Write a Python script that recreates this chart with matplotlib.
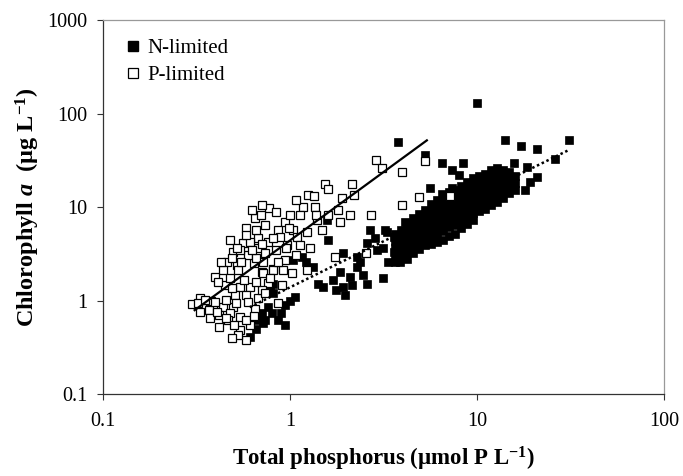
import matplotlib
matplotlib.use("Agg")
import matplotlib.pyplot as plt
from matplotlib.ticker import FixedLocator, FixedFormatter, NullLocator
from matplotlib.lines import Line2D

# N-limited lakes (filled squares)
n_tp = [0.61, 0.68, 0.74, 0.80, 0.86, 0.71, 0.94, 0.76, 0.81, 0.785, 0.81, 0.94, 1.07, 0.72, 0.66, 0.90, 1.0,
        1.04, 1.16, 1.33, 1.22, 1.58, 1.6, 1.93, 1.5, 1.7, 1.86, 2.1, 1.98, 1.93, 2.3, 2.6, 2.3, 1.42, 1.77, 2.15, 2.38, 2.45,
        2.69, 2.6, 2.86, 3.23, 3.6, 3.6, 3.75, 2.93, 3.15, 3.35, 3.89, 3.16, 4.14, 3.8, 3.3,
        3.66, 3.66, 3.66, 3.66, 3.66,
        3.94, 3.94, 3.94, 3.94, 3.94,
        4.24, 4.24, 4.24, 4.24, 4.24, 4.24,
        4.56, 4.56, 4.56, 4.56, 4.56, 4.56,
        4.91, 4.91, 4.91, 4.91, 4.91, 4.91,
        5.29, 5.29, 5.29, 5.29, 5.29, 5.29,
        5.7, 5.7, 5.7, 5.7, 5.7, 5.7, 5.7,
        6.14, 6.14, 6.14, 6.14, 6.14, 6.14, 6.14,
        6.61, 6.61, 6.61, 6.61, 6.61, 6.61, 6.61,
        7.11, 7.11, 7.11, 7.11, 7.11, 7.11, 7.11,
        7.66, 7.66, 7.66, 7.66, 7.66, 7.66, 7.66,
        8.24, 8.24, 8.24, 8.24, 8.24, 8.24, 8.24,
        8.87, 8.87, 8.87, 8.87, 8.87, 8.87, 8.87,
        9.55, 9.55, 9.55, 9.55, 9.55, 9.55, 9.55,
        10.3, 10.3, 10.3, 10.3, 10.3, 10.3,
        11.1, 11.1, 11.1, 11.1, 11.1, 11.1,
        11.9, 11.9, 11.9, 11.9, 11.9, 11.9,
        12.8, 12.8, 12.8, 12.8, 12.8, 12.8,
        13.8, 13.8, 13.8, 13.8, 13.8,
        14.9, 14.9, 14.9, 14.9,
        16.0, 16.0, 16.0,
        10.0, 14.2, 17.3, 21.0, 31.0, 26.0, 21.0, 18.6, 15.8, 6.5, 8.4, 7.4, 8.0, 5.6, 6.5, 7.4, 5.3, 19.3, 18.0]
n_chl = [0.41, 0.62, 0.62, 0.74, 0.62, 0.74, 0.55, 0.85, 1.2, 1.4, 1.5, 0.9, 1.1, 0.58, 0.5, 0.74, 1.0,
         2.72, 2.9, 2.3, 2.6, 7.3, 4.46, 3.2, 1.4, 1.66, 2.0, 1.8, 1.15, 1.4, 2.3, 1.5, 2.9, 1.5, 1.3, 1.47, 2.6, 1.88,
         5.7, 4.1, 4.7, 5.7, 4.8, 3.3, 2.72, 3.48, 1.75, 2.6, 2.6, 3.7, 6.9, 50.0, 5.4,
         5.2, 4.35, 3.66, 3.08, 2.58,
         5.7, 4.8, 4.05, 3.4, 2.85,
         6.6, 5.55, 4.7, 3.94, 3.3, 2.8,
         7.7, 6.45, 5.4, 4.6, 3.85, 3.2,
         8.5, 7.1, 6.0, 5.04, 4.25, 3.57,
         9.33, 7.9, 6.6, 5.55, 4.7, 3.94,
         10.8, 9.1, 7.7, 6.45, 5.4, 4.6, 4.05,
         11.9, 10.0, 8.5, 7.1, 6.0, 5.04, 4.25,
         13.2, 11.1, 9.33, 7.9, 6.6, 5.55, 4.46,
         14.6, 12.2, 10.3, 8.7, 7.3, 6.15, 4.9,
         15.3, 12.9, 10.8, 9.1, 7.7, 6.45, 5.2,
         16.8, 14.2, 11.9, 10.0, 8.5, 7.1, 6.0,
         18.6, 15.6, 13.2, 11.1, 9.33, 7.9, 6.6,
         20.5, 17.3, 14.6, 12.2, 10.3, 8.7, 7.3,
         21.5, 18.1, 15.3, 12.9, 10.8, 9.1,
         22.6, 19.0, 16.0, 13.5, 11.4, 9.6,
         25.0, 21.0, 17.7, 14.9, 12.6, 10.6,
         26.3, 22.1, 18.6, 15.6, 13.2, 11.4,
         25.0, 21.0, 17.7, 14.9, 12.6,
         23.8, 20.0, 16.8, 14.2,
         21.5, 18.1, 15.3,
         130.0, 53.0, 45.0, 42.0, 53.0, 33.0, 21.0, 27.0, 30.0, 30.0, 30.0, 25.0, 22.0, 16.0, 14.0, 16.0, 36.0, 18.6, 15.3]

# P-limited lakes (open squares)
p_tp = [0.77, 0.65, 0.74, 0.56, 0.68, 0.68, 0.61, 0.76, 0.46, 0.52, 0.44, 0.40, 0.53, 0.64, 0.72, 0.71, 0.81,
        0.54, 0.61, 0.58, 0.76, 0.68, 0.33, 0.30, 0.34, 0.39, 0.44, 0.50, 0.48, 0.42, 0.54, 0.42, 0.54, 0.58, 0.37,
        0.60, 0.50, 0.45, 0.51, 0.65, 0.71, 0.38, 0.47, 0.61, 0.53, 0.58, 0.70,
        1.55, 1.6, 1.25, 1.18, 1.37, 1.9, 2.2, 1.8, 1.13, 0.94, 0.86, 1.04, 1.23, 1.48, 0.89, 1.09, 1.13, 1.28,
        0.94, 0.81, 0.92, 1.03, 1.23, 0.72, 1.75, 2.7, 0.86, 0.74, 0.97, 1.39, 2.55,
        2.9, 3.1, 2.15, 4.0, 5.3, 4.9, 4.0, 7.2,
        0.325, 0.352, 0.40, 0.456, 0.515, 0.60, 0.375, 0.456, 0.585, 0.505, 0.64, 0.41, 0.33, 0.49,
        0.415, 0.48, 0.57, 0.66, 0.49, 0.43, 0.49, 0.55, 0.66, 0.74, 0.84, 0.54, 0.63, 0.71, 0.81, 0.95,
        1.08, 0.86, 0.58, 0.66, 0.48, 0.52, 0.785, 0.91,
        0.63, 0.71, 0.84, 1.0, 1.08, 1.35, 0.99, 1.38, 1.6, 1.86, 2.1]
p_chl = [9.8, 7.7, 6.45, 4.1, 4.7, 3.66, 4.25, 4.25, 2.58, 2.41, 2.13, 1.8, 2.13, 2.5, 2.58, 2.0, 2.2,
         1.4, 1.4, 1.15, 1.55, 1.06, 1.06, 0.92, 0.83, 0.85, 0.85, 0.85, 0.74, 0.70, 0.67, 0.52, 0.48, 0.38, 0.79,
         3.08, 3.3, 1.47, 1.15, 0.81, 1.3, 1.0, 0.62, 0.55, 0.43, 6.0, 8.3,
         17.7, 15.7, 13.5, 10.0, 10.0, 12.5, 13.5, 9.3, 8.3, 7.0, 5.7, 5.7, 5.4, 5.7, 4.8, 4.8, 3.94, 3.66,
         2.72, 2.13, 2.13, 1.98, 2.13, 1.98, 2.94, 8.3, 0.94, 1.2, 3.94, 7.3, 3.2,
         32.0, 26.5, 17.7, 24.0, 31.0, 13.0, 10.6, 13.2,
         0.95, 1.01, 0.97, 1.01, 0.95, 0.97, 0.65, 0.65, 0.62, 0.55, 0.68, 0.76, 0.76, 0.40,
         1.57, 1.73, 1.66, 1.57, 1.36, 2.58, 2.85, 2.58, 2.85, 3.2, 3.48, 3.48, 3.48, 4.05, 4.7, 3.66,
         3.08, 2.58, 5.04, 5.7, 4.46, 3.66, 1.73, 1.47,
         9.33, 10.6, 8.9, 8.3, 11.9, 13.2, 6.0, 8.3, 8.3, 6.95, 8.3]

# fitted regression lines (end points)
p_fit_x = [0.31, 5.4]
p_fit_y = [0.79, 52.0]
n_fit_x = [0.61, 31.0]
n_fit_y = [0.85, 41.0]

x_ticks = [0.1, 1, 10, 100]
y_ticks = [0.1, 1, 10, 100, 1000]

plt.rcParams['font.family'] = ['Liberation Serif', 'DejaVu Serif']
plt.rcParams['mathtext.fontset'] = 'custom'
plt.rcParams['mathtext.rm'] = 'Liberation Serif'
plt.rcParams['mathtext.it'] = 'Liberation Serif:italic'
plt.rcParams['mathtext.bf'] = 'Liberation Serif:bold'
plt.rcParams['mathtext.bfit'] = 'Liberation Serif:bold:italic'

fig = plt.figure(figsize=(6.83, 4.76), dpi=100)
ax = fig.add_axes([0.1504, 0.1723, 0.8218, 0.7847])

ax.plot(n_tp, n_chl, 's', ms=5.8, mfc='black', mec='black', mew=0.5, zorder=2)
ax.plot(p_tp, p_chl, 's', ms=5.4, mfc='white', mec='black', mew=0.9, zorder=3)
ax.plot(p_fit_x, p_fit_y, '-', color='black', lw=1.6, zorder=4)
ax.plot(n_fit_x, n_fit_y, color='black', lw=1.8, linestyle=(0, (1, 1.1)), zorder=4)

ax.set_xscale('log')
ax.set_yscale('log')
ax.set_xlim(0.1, 100)
ax.set_ylim(0.1, 1000)

ax.xaxis.set_major_locator(FixedLocator(x_ticks))
ax.xaxis.set_major_formatter(FixedFormatter(['%g' % v for v in x_ticks]))
ax.yaxis.set_major_locator(FixedLocator(y_ticks))
ax.yaxis.set_major_formatter(FixedFormatter(['%g' % v for v in y_ticks]))
ax.xaxis.set_minor_locator(NullLocator())
ax.yaxis.set_minor_locator(NullLocator())
ax.tick_params(axis='both', direction='out', length=4, width=0.8, labelsize=14.5, color='#333333')
ax.tick_params(axis='x', pad=9)
ax.tick_params(axis='y', pad=7)

for side in ['left', 'bottom']:
    ax.spines[side].set_color('#333333')
    ax.spines[side].set_linewidth(0.9)
for side in ['top', 'right']:
    ax.spines[side].set_color('#999999')
    ax.spines[side].set_linewidth(0.9)

ax.set_xlabel('Total phosphorus (µmol P L$^{\\mathbf{-1}}$)',
              fontsize=16.5, fontweight='bold', labelpad=10)
ax.set_ylabel('Chlorophyll $\\mathbfit{a}$  (µg L$^{\\mathbf{-1}}$)',
              fontsize=17.5, fontweight='bold', labelpad=4)

handles = [Line2D([], [], marker='s', ls='none', ms=7, mfc='black', mec='black'),
           Line2D([], [], marker='s', ls='none', ms=7, mfc='white', mec='black', mew=0.9)]
ax.legend(handles, ['N-limited', 'P-limited'], loc='upper left', bbox_to_anchor=(0.02, 0.985),
          frameon=False, fontsize=15, handlelength=0.6, handletextpad=0.4, labelspacing=0.35,
          borderaxespad=0.2)

fig.savefig('out.png', dpi=100)
